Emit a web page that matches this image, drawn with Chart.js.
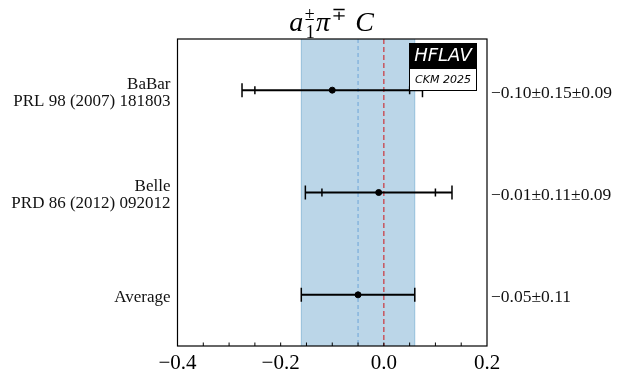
<!DOCTYPE html>
<html>
<head>
<meta charset="utf-8">
<script src="https://cdn.jsdelivr.net/npm/chart.js@4.4.1/dist/chart.umd.min.js"></script>
<style>
  html, body { margin: 0; padding: 0; background: #fff; }
  #wrap { width: 627px; height: 382px; }
</style>
</head>
<body>
<div id="wrap"><canvas id="c" width="627" height="382"></canvas></div>
<script>
// ---- data ----
const experiments = ['BaBar', 'Belle', 'Average'];
const references = ['PRL 98 (2007) 181803', 'PRD 86 (2012) 092012', ''];
const centralValues = [-0.10, -0.01, -0.05];
const statErrors = [0.15, 0.11, 0.11];
const systErrors = [0.09, 0.09, null];
const valueLabels = ['\u22120.10\u00b10.15\u00b10.09', '\u22120.01\u00b10.11\u00b10.09', '\u22120.05\u00b10.11'];
const xTickLabels = [-0.4, -0.2, 0.0, 0.2];
const averageValue = -0.05;
const averageError = 0.11;
const referenceLine = 0.0;

const SERIF = '"Liberation Serif", "DejaVu Serif", serif';

function fmt(v) {
  const s = Math.abs(v).toFixed(1);
  return (v < -1e-9 ? '\u2212' : '') + s;
}

const errorBarPlugin = {
  id: 'errorBars',
  beforeDatasetsDraw(chart) {
    const { ctx, chartArea: a, scales: { x, y } } = chart;
    ctx.save();
    // average band
    const bl = x.getPixelForValue(averageValue - averageError);
    const br = x.getPixelForValue(averageValue + averageError);
    ctx.fillStyle = 'rgba(31,119,180,0.3)';
    ctx.fillRect(bl, a.top, br - bl, a.bottom - a.top);
    ctx.strokeStyle = 'rgba(31,119,180,0.35)';
    ctx.lineWidth = 1;
    ctx.beginPath();
    ctx.moveTo(bl, a.top); ctx.lineTo(bl, a.bottom);
    ctx.moveTo(br, a.top); ctx.lineTo(br, a.bottom);
    ctx.stroke();
    // average dashed line
    const am = x.getPixelForValue(averageValue);
    ctx.setLineDash([4, 3]);
    ctx.strokeStyle = 'rgba(100,160,215,0.9)';
    ctx.lineWidth = 1;
    ctx.beginPath(); ctx.moveTo(am, a.top); ctx.lineTo(am, a.bottom); ctx.stroke();
    // reference dashed line
    const r0 = x.getPixelForValue(referenceLine);
    ctx.strokeStyle = 'rgba(205,40,45,0.85)';
    ctx.lineWidth = 1.3;
    ctx.setLineDash([5, 3]);
    ctx.beginPath(); ctx.moveTo(r0, a.top); ctx.lineTo(r0, a.bottom); ctx.stroke();
    ctx.setLineDash([]);
    // error bars
    ctx.strokeStyle = '#000';
    centralValues.forEach((v, i) => {
      const py = y.getPixelForValue(i);
      const st = statErrors[i];
      const sy = systErrors[i];
      const tot = sy == null ? st : Math.sqrt(st * st + sy * sy);
      const l = x.getPixelForValue(v - tot), r = x.getPixelForValue(v + tot);
      ctx.lineWidth = 2;
      ctx.beginPath(); ctx.moveTo(l, py); ctx.lineTo(r, py); ctx.stroke();
      ctx.lineWidth = 1.5;
      ctx.beginPath();
      ctx.moveTo(l, py - 7); ctx.lineTo(l, py + 7);
      ctx.moveTo(r, py - 7); ctx.lineTo(r, py + 7);
      ctx.stroke();
      if (sy != null) {
        const sl = x.getPixelForValue(v - st), sr = x.getPixelForValue(v + st);
        ctx.beginPath();
        ctx.moveTo(sl, py - 4); ctx.lineTo(sl, py + 4);
        ctx.moveTo(sr, py - 4); ctx.lineTo(sr, py + 4);
        ctx.stroke();
      }
    });
    ctx.restore();
  },
  afterDraw(chart) {
    const { ctx, chartArea: a, scales: { x } } = chart;
    ctx.save();
    // frame
    ctx.strokeStyle = '#000';
    ctx.lineWidth = 1.2;
    ctx.strokeRect(a.left, a.top, a.right - a.left, a.bottom - a.top);
    // inward minor ticks
    ctx.lineWidth = 1;
    ctx.beginPath();
    x.ticks.forEach(t => {
      const px = x.getPixelForValue(t.value);
      if (px <= a.left + 1 || px >= a.right - 1) return;
      ctx.moveTo(px, a.bottom); ctx.lineTo(px, a.bottom - 3.5);
    });
    ctx.stroke();
    // title
    ctx.fillStyle = '#000';
    ctx.textBaseline = 'alphabetic';
    ctx.textAlign = 'left';
    const cx = (a.left + a.right) / 2;
    const base = 31;
    const parts = [
      { t: 'a', f: 'italic 28px ' + SERIF, dy: 0 },
      { t: '\u00b1', f: '18px ' + SERIF, dy: -11, sub: '1' },
      { t: '\u03c0', f: 'italic 28px ' + SERIF, dy: 0 },
      { t: '\u2213', f: '18px ' + SERIF, dy: -11 },
      { t: ' C', f: 'italic 28px ' + SERIF, dy: 0 }
    ];
    let w = 0;
    parts.forEach(p => { ctx.font = p.f; p.w = ctx.measureText(p.t).width + 1.5; w += p.w; });
    let px = cx - w / 2;
    parts.forEach(p => {
      ctx.font = p.f;
      ctx.fillText(p.t, px, base + p.dy);
      if (p.sub) ctx.fillText(p.sub, px + 1, base + 7);
      px += p.w;
    });
    // HFLAV logo
    const lx = 409, lw = 68;
    ctx.fillStyle = '#000';
    ctx.fillRect(lx, 43, lw, 25);
    ctx.fillStyle = '#fff';
    ctx.fillRect(lx, 68, lw, 23);
    ctx.strokeStyle = '#000';
    ctx.lineWidth = 1;
    ctx.strokeRect(lx + 0.5, 68.5, lw - 1, 22);
    ctx.textAlign = 'center';
    ctx.textBaseline = 'middle';
    ctx.fillStyle = '#fff';
    ctx.font = 'italic 18px "DejaVu Sans", sans-serif';
    ctx.fillText('HFLAV', lx + lw / 2, 56);
    ctx.fillStyle = '#000';
    ctx.font = 'italic 11px "DejaVu Sans", sans-serif';
    ctx.fillText('CKM 2025', lx + lw / 2, 80);
    ctx.restore();
  }
};

new Chart(document.getElementById('c'), {
  type: 'scatter',
  data: {
    datasets: [{
      data: centralValues.map((v, i) => ({ x: v, y: i })),
      pointRadius: 3,
      pointBackgroundColor: '#000',
      pointBorderColor: '#000',
      pointHoverRadius: 3
    }]
  },
  options: {
    responsive: false,
    animation: false,
    events: [],
    layout: { padding: { top: 39, left: 0, right: 0, bottom: 0 } },
    plugins: { legend: { display: false }, tooltip: { enabled: false }, title: { display: false } },
    scales: {
      x: {
        type: 'linear',
        min: -0.4, max: 0.2,
        afterFit(s) { s.height = 36; },
        afterBuildTicks(s) {
          const t = [];
          for (let k = -8; k <= 4; k++) t.push({ value: k * 0.05 });
          s.ticks = t;
        },
        grid: { display: false, drawTicks: false },
        border: { display: false },
        ticks: {
          autoSkip: false,
          maxRotation: 0,
          padding: 5,
          color: '#000',
          font: { family: SERIF, size: 21 },
          callback(v) {
            const hit = xTickLabels.find(t => Math.abs(t - v) < 1e-6);
            return hit === undefined ? '' : fmt(hit);
          }
        }
      },
      y: {
        type: 'linear',
        position: 'left',
        reverse: true,
        min: -0.5, max: 2.5,
        afterFit(s) { s.width = 177.5; },
        afterBuildTicks(s) { s.ticks = experiments.map((_, i) => ({ value: i })); },
        grid: { display: false, drawTicks: false },
        border: { display: false },
        ticks: {
          autoSkip: false,
          padding: 7,
          labelOffset: 2.5,
          color: '#111',
          font: { family: SERIF, size: 17, lineHeight: 1.0 },
          callback(v) {
            const i = Math.round(v);
            return references[i] ? [experiments[i], references[i]] : experiments[i];
          }
        }
      },
      y2: {
        type: 'linear',
        position: 'right',
        reverse: true,
        min: -0.5, max: 2.5,
        afterFit(s) { s.width = 140; },
        afterBuildTicks(s) { s.ticks = experiments.map((_, i) => ({ value: i })); },
        grid: { display: false, drawTicks: false },
        border: { display: false },
        ticks: {
          autoSkip: false,
          padding: 4,
          labelOffset: 3,
          color: '#111',
          font: { family: SERIF, size: 17.5 },
          callback(v) { return valueLabels[Math.round(v)]; }
        }
      }
    }
  },
  plugins: [errorBarPlugin]
});
</script>
</body>
</html>
